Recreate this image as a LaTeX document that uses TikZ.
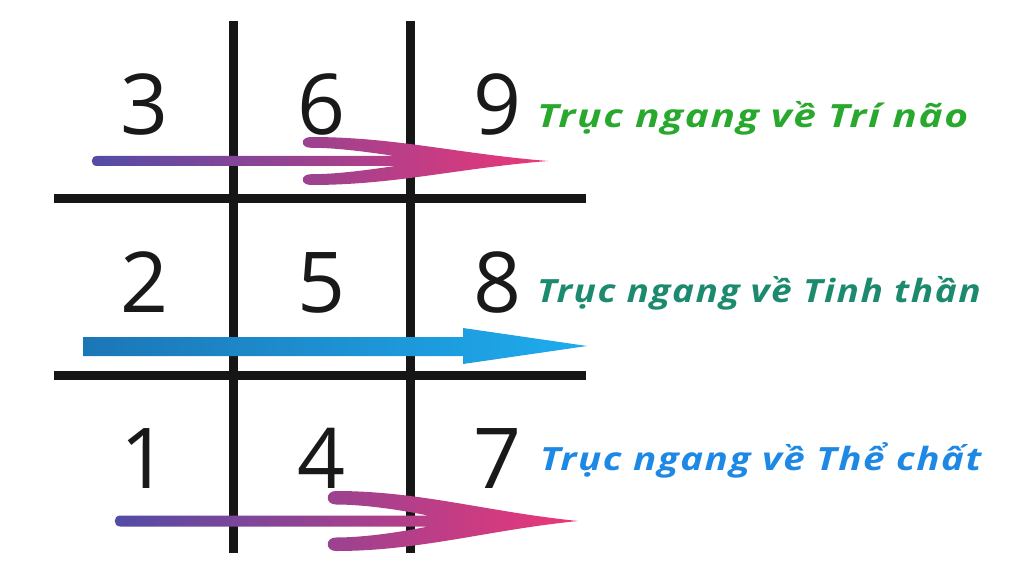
\documentclass[tikz,border=0pt]{standalone}
\usepackage{fontspec}
\setmainfont{Open Sans}
\newfontfamily\axisfont{Open Sans}[LetterSpace=4]
\definecolor{gridc}{RGB}{22,22,22}
\definecolor{arrL}{RGB}{82,76,165}
\definecolor{arrR}{RGB}{236,55,120}
\definecolor{blueL}{RGB}{28,118,182}
\definecolor{blueR}{RGB}{30,172,238}
\definecolor{greenT}{RGB}{40,168,45}
\definecolor{tealT}{RGB}{28,138,110}
\definecolor{blueT}{RGB}{30,136,229}
% #1 left x, #2 tail x, #3 junction x, #4 tip x, #5 centre y, #6 barb half height, #7 shaft half thickness
\newcommand{\fletcharrow}[7]{%
  \shade[left color=arrL, right color=arrR]
    ({#1+#7},{#5-#7}) -- ({#3},{#5-#7})
    .. controls ({#3-35},{#5-0.42*#6}) and ({#2+30},{#5-0.55*#6}) .. ({#2+6},{#5-0.55*#6})
    .. controls ({#2-5},{#5-0.55*#6}) and ({#2-5},{#5-#6}) .. ({#2+6},{#5-#6})
    .. controls ({#2+90},{#5-#6}) and ({#4-90},{#5-0.3*#6}) .. ({#4},{#5})
    .. controls ({#4-90},{#5+0.3*#6}) and ({#2+90},{#5+#6}) .. ({#2+6},{#5+#6})
    .. controls ({#2-5},{#5+#6}) and ({#2-5},{#5+0.55*#6}) .. ({#2+6},{#5+0.55*#6})
    .. controls ({#2+30},{#5+0.55*#6}) and ({#3-35},{#5+0.42*#6}) .. ({#3},{#5+#7})
    -- ({#1+#7},{#5+#7})
    .. controls ({#1-0.4*#7},{#5+#7}) and ({#1-0.4*#7},{#5-#7}) .. ({#1+#7},{#5-#7}) -- cycle;}
\newcommand{\axistext}[2]{\scalebox{#1}[1]{#2}}
\begin{document}
\begin{tikzpicture}[x=1pt,y=-1pt,
  gridline/.style={draw=gridc,line width=9pt},
  digit/.style={anchor=base,inner sep=0pt,font=\fontsize{84}{90}\selectfont,text=black!90},
  axislabel/.style={anchor=base west,inner sep=0pt,font=\axisfont\fontsize{32}{36}\selectfont\bfseries\itshape}]
\fill[white] (0,0) rectangle (1024,572);
\useasboundingbox (0,0) rectangle (1024,572);
% grid
\coordinate (v1t) at (233,21); \coordinate (v1b) at (233,553);
\coordinate (v2t) at (410,21); \coordinate (v2b) at (410,553);
\coordinate (h1l) at (54,198); \coordinate (h1r) at (586,198);
\coordinate (h2l) at (54,375); \coordinate (h2r) at (586,375);
\draw[gridline] (v1t) -- (v1b);
\draw[gridline] (v2t) -- (v2b);
\draw[gridline] (h1l) -- (h1r);
\draw[gridline] (h2l) -- (h2r);
% digits
\node[digit] (d3) at (145,135) {3};
\node[digit] (d6) at (322,135) {6};
\node[digit] (d9) at (498,135) {9};
\node[digit] (d2) at (145,312) {2};
\node[digit] (d5) at (322,312) {5};
\node[digit] (d8) at (498,312) {8};
\node[digit] (d1) at (145,488) {1};
\node[digit] (d4) at (322,488) {4};
\node[digit] (d7) at (498,488) {7};
% arrows
\fletcharrow{92}{305}{395}{548}{161}{24}{5}
\shade[left color=blueL, right color=blueR]
  (83,337) -- (463,337) -- (463,328) -- (587,346) -- (463,364) -- (463,356) -- (83,356) -- cycle;
\fletcharrow{115}{330}{428}{578}{521}{30}{5.5}
% labels
\node[axislabel,text=greenT] (l1) at (537,128) {\axistext{1.27}{Trục ngang về Trí não}};
\node[axislabel,text=tealT] (l2) at (537,302) {\axistext{1.16}{Trục ngang về Tinh thần}};
\node[axislabel,text=blueT] (l3) at (540,470) {\axistext{1.205}{Trục ngang về Thể chất}};
\end{tikzpicture}
\end{document}
